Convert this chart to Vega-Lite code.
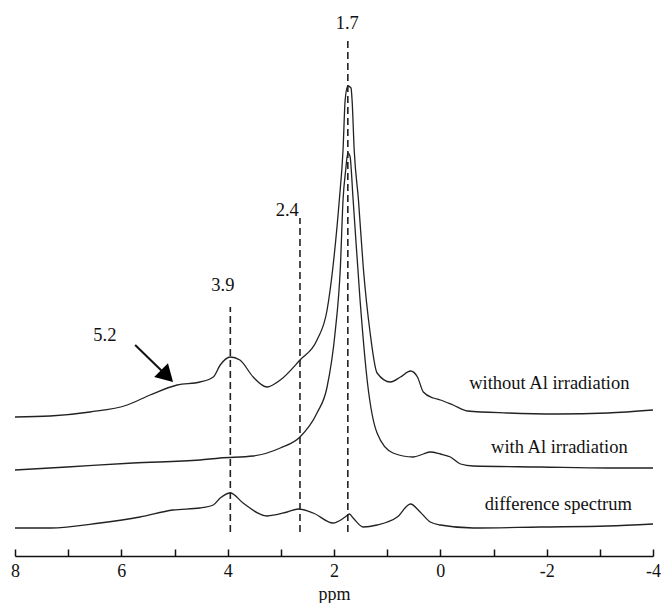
{
  "$schema": "https://vega.github.io/schema/vega-lite/v6.json",
  "width": 638,
  "height": 556,
  "autosize": {"type": "none"},
  "padding": {"left": 15, "top": 0, "right": 8, "bottom": 47},
  "background": "white",
  "config": {"view": {"stroke": null}, "font": "Liberation Serif"},
  "datasets": {
    "spectra": [
      {"s": "without", "ppm": 8.0, "i": 139}, {"s": "without", "ppm": 7.34, "i": 140}, {"s": "without", "ppm": 6.59, "i": 144},
      {"s": "without", "ppm": 5.89, "i": 151}, {"s": "without", "ppm": 5.46, "i": 161}, {"s": "without", "ppm": 4.95, "i": 171},
      {"s": "without", "ppm": 4.52, "i": 174}, {"s": "without", "ppm": 4.27, "i": 179}, {"s": "without", "ppm": 4.14, "i": 191},
      {"s": "without", "ppm": 3.95, "i": 199}, {"s": "without", "ppm": 3.77, "i": 196}, {"s": "without", "ppm": 3.52, "i": 179},
      {"s": "without", "ppm": 3.26, "i": 169}, {"s": "without", "ppm": 3.01, "i": 176}, {"s": "without", "ppm": 2.64, "i": 196},
      {"s": "without", "ppm": 2.32, "i": 216}, {"s": "without", "ppm": 2.13, "i": 246}, {"s": "without", "ppm": 2.02, "i": 289},
      {"s": "without", "ppm": 1.90, "i": 356}, {"s": "without", "ppm": 1.83, "i": 406}, {"s": "without", "ppm": 1.79, "i": 456},
      {"s": "without", "ppm": 1.74, "i": 470}, {"s": "without", "ppm": 1.68, "i": 468}, {"s": "without", "ppm": 1.66, "i": 456},
      {"s": "without", "ppm": 1.62, "i": 406}, {"s": "without", "ppm": 1.54, "i": 356}, {"s": "without", "ppm": 1.45, "i": 289},
      {"s": "without", "ppm": 1.32, "i": 223}, {"s": "without", "ppm": 1.19, "i": 183}, {"s": "without", "ppm": 0.94, "i": 174},
      {"s": "without", "ppm": 0.75, "i": 179}, {"s": "without", "ppm": 0.56, "i": 185}, {"s": "without", "ppm": 0.43, "i": 179},
      {"s": "without", "ppm": 0.32, "i": 164}, {"s": "without", "ppm": 0.13, "i": 158}, {"s": "without", "ppm": 0.0, "i": 156},
      {"s": "without", "ppm": -0.24, "i": 151}, {"s": "without", "ppm": -0.51, "i": 145}, {"s": "without", "ppm": -1.26, "i": 143},
      {"s": "without", "ppm": -2.2, "i": 142}, {"s": "without", "ppm": -3.15, "i": 143}, {"s": "without", "ppm": -4.0, "i": 146},

      {"s": "with", "ppm": 8.0, "i": 86}, {"s": "with", "ppm": 7.02, "i": 89}, {"s": "with", "ppm": 5.78, "i": 93},
      {"s": "with", "ppm": 4.52, "i": 96}, {"s": "with", "ppm": 4.14, "i": 98}, {"s": "with", "ppm": 3.52, "i": 100},
      {"s": "with", "ppm": 3.01, "i": 108}, {"s": "with", "ppm": 2.64, "i": 119}, {"s": "with", "ppm": 2.32, "i": 143},
      {"s": "with", "ppm": 2.13, "i": 169}, {"s": "with", "ppm": 1.98, "i": 223}, {"s": "with", "ppm": 1.88, "i": 289},
      {"s": "with", "ppm": 1.83, "i": 356}, {"s": "with", "ppm": 1.78, "i": 386}, {"s": "with", "ppm": 1.74, "i": 403},
      {"s": "with", "ppm": 1.70, "i": 400}, {"s": "with", "ppm": 1.64, "i": 356}, {"s": "with", "ppm": 1.51, "i": 256},
      {"s": "with", "ppm": 1.37, "i": 173}, {"s": "with", "ppm": 1.19, "i": 123}, {"s": "with", "ppm": 0.89, "i": 103},
      {"s": "with", "ppm": 0.51, "i": 99}, {"s": "with", "ppm": 0.32, "i": 102}, {"s": "with", "ppm": 0.19, "i": 104},
      {"s": "with", "ppm": 0.0, "i": 102}, {"s": "with", "ppm": -0.19, "i": 99}, {"s": "with", "ppm": -0.38, "i": 92},
      {"s": "with", "ppm": -0.62, "i": 90}, {"s": "with", "ppm": -1.88, "i": 89}, {"s": "with", "ppm": -3.15, "i": 88},
      {"s": "with", "ppm": -4.0, "i": 88},

      {"s": "diff", "ppm": 8.0, "i": 28}, {"s": "diff", "ppm": 7.34, "i": 28}, {"s": "diff", "ppm": 6.4, "i": 33},
      {"s": "diff", "ppm": 5.65, "i": 39}, {"s": "diff", "ppm": 5.03, "i": 46}, {"s": "diff", "ppm": 4.52, "i": 48},
      {"s": "diff", "ppm": 4.27, "i": 51}, {"s": "diff", "ppm": 4.14, "i": 58}, {"s": "diff", "ppm": 3.95, "i": 63},
      {"s": "diff", "ppm": 3.71, "i": 53}, {"s": "diff", "ppm": 3.26, "i": 40}, {"s": "diff", "ppm": 2.88, "i": 44},
      {"s": "diff", "ppm": 2.67, "i": 47}, {"s": "diff", "ppm": 2.39, "i": 43}, {"s": "diff", "ppm": 2.02, "i": 33},
      {"s": "diff", "ppm": 1.79, "i": 39}, {"s": "diff", "ppm": 1.71, "i": 42}, {"s": "diff", "ppm": 1.64, "i": 38},
      {"s": "diff", "ppm": 1.45, "i": 29}, {"s": "diff", "ppm": 1.19, "i": 31}, {"s": "diff", "ppm": 0.81, "i": 39},
      {"s": "diff", "ppm": 0.56, "i": 52}, {"s": "diff", "ppm": 0.38, "i": 44}, {"s": "diff", "ppm": 0.19, "i": 34},
      {"s": "diff", "ppm": 0.0, "i": 31}, {"s": "diff", "ppm": -0.62, "i": 28}, {"s": "diff", "ppm": -1.88, "i": 29},
      {"s": "diff", "ppm": -3.15, "i": 30}, {"s": "diff", "ppm": -4.0, "i": 32}
    ],
    "markers": [
      {"ppm": 3.95, "bottom": 24, "top": 249},
      {"ppm": 2.64, "bottom": 24, "top": 338},
      {"ppm": 1.74, "bottom": 24, "top": 516}
    ],
    "labels": [
      {"text": "3.9", "ppm": 4.09, "i": 271},
      {"text": "2.4", "ppm": 2.88, "i": 346},
      {"text": "1.7", "ppm": 1.75, "i": 533},
      {"text": "5.2", "ppm": 6.31, "i": 221},
      {"text": "without Al irradiation", "ppm": -2.05, "i": 173},
      {"text": "with Al irradiation", "ppm": -2.24, "i": 109},
      {"text": "difference spectrum", "ppm": -2.22, "i": 52}
    ],
    "arrow": [
      {"ppm": 5.74, "i": 211, "ppm2": 5.14, "i2": 180}
    ]
  },
  "layer": [
    {
      "data": {"name": "spectra"},
      "mark": {"type": "line", "interpolate": "monotone", "color": "#222222", "strokeWidth": 1.3},
      "encoding": {
        "x": {
          "field": "ppm", "type": "quantitative",
          "scale": {"domain": [-4, 8], "reverse": true, "nice": false, "zero": false},
          "axis": {
            "values": [8, 7, 6, 5, 4, 3, 2, 1, 0, -1, -2, -3, -4],
            "labelExpr": "datum.value % 2 === 0 ? '' + datum.value : ''",
            "grid": false,
            "domainColor": "#111111", "domainWidth": 1.5,
            "ticks": true,
            "tickColor": "#111111", "tickWidth": 1.5,
            "tickSize": -7,
            "labelFont": "Liberation Serif", "labelFontSize": 18, "labelColor": "#111111",
            "labelPadding": 13, "labelFlush": false,
            "title": "ppm", "titleFont": "Liberation Serif", "titleFontSize": 18,
            "titleFontWeight": "normal", "titleColor": "#111111",
            "titleY": 38, "titleBaseline": "middle"
          }
        },
        "y": {"field": "i", "type": "quantitative", "scale": {"domain": [0, 556], "nice": false}, "axis": null},
        "detail": {"field": "s"}
      }
    },
    {
      "data": {"name": "markers"},
      "mark": {"type": "rule", "color": "#222222", "strokeWidth": 1.6, "strokeDash": [7, 4]},
      "encoding": {
        "x": {"field": "ppm", "type": "quantitative"},
        "y": {"field": "bottom", "type": "quantitative"},
        "y2": {"field": "top"}
      }
    },
    {
      "data": {"name": "labels"},
      "mark": {"type": "text", "font": "Liberation Serif", "fontSize": 18.5, "color": "#111111", "align": "center", "baseline": "middle"},
      "encoding": {
        "x": {"field": "ppm", "type": "quantitative"},
        "y": {"field": "i", "type": "quantitative"},
        "text": {"field": "text"}
      }
    },
    {
      "data": {"name": "arrow"},
      "mark": {"type": "rule", "color": "#111111", "strokeWidth": 2},
      "encoding": {
        "x": {"field": "ppm", "type": "quantitative"},
        "y": {"field": "i", "type": "quantitative"},
        "x2": {"field": "ppm2"},
        "y2": {"field": "i2"}
      }
    },
    {
      "data": {"name": "arrow"},
      "mark": {"type": "point", "shape": "triangle-up", "angle": 135, "filled": true, "color": "#000000", "size": 380, "opacity": 1},
      "encoding": {
        "x": {"field": "ppm2", "type": "quantitative"},
        "y": {"field": "i2", "type": "quantitative"}
      }
    }
  ]
}
